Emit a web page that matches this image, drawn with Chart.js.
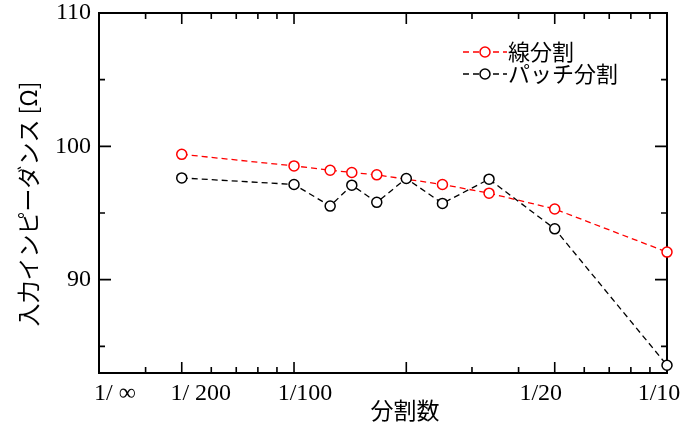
<!DOCTYPE html>
<html>
<head>
<meta charset="utf-8">
<script src="https://cdn.jsdelivr.net/npm/chart.js@4/dist/chart.umd.min.js"></script>
<style>
  html, body { margin: 0; padding: 0; background: #fff; }
  canvas { display: block; }
</style>
</head>
<body>
<canvas id="chart" width="697" height="424"></canvas>
<script>
// division counts N, plotted at x = 1/N on a log axis
const divisions = [200, 100, 80, 70, 60, 50, 40, 30, 20, 10];
const lineSplit = [99.40, 98.53, 98.21, 98.04, 97.86, null, 97.14, 96.49, 95.30, 92.07];
const patchSplit = [97.63, 97.14, 95.52, 97.09, 95.80, 97.59, 95.72, 97.54, 93.81, 83.58];
const seriesNames = ['線分割', 'パッチ分割'];

const xTickValues = [0.003, 0.005, 0.01, 0.05, 0.1];
const xTickLabels = ['1/ ∞', '1/ 200', '1/100', '1/20', '1/10'];
const xMajorTicks = [0.005, 0.01, 0.02, 0.05, 0.1];
const xMinorTicks = [0.004, 0.006, 0.007, 0.008, 0.009, 0.03, 0.04, 0.06, 0.07, 0.08, 0.09];
const yMajorTicks = [90, 100, 110];
const yMinorTicks = [85, 95, 105];

const toPoints = vals => divisions
    .map((n, i) => ({ x: 1 / n, y: vals[i] }))
    .filter(p => p.y !== null);

const numFont = '"Liberation Serif"';
const jpFont = '"Noto Sans CJK JP"';

// frame, inward ticks on all four sides
const framePlugin = {
    id: 'frame',
    beforeDatasetsDraw(chart) {
        const { ctx, chartArea: a, scales: { x, y } } = chart;
        ctx.save();
        ctx.strokeStyle = '#000';
        ctx.lineWidth = 2;
        ctx.strokeRect(a.left, a.top, a.right - a.left, a.bottom - a.top);

        ctx.lineWidth = 1.6;
        const xt = (v, len) => {
            const px = x.getPixelForValue(v);
            ctx.beginPath();
            ctx.moveTo(px, a.bottom); ctx.lineTo(px, a.bottom - len);
            ctx.moveTo(px, a.top); ctx.lineTo(px, a.top + len);
            ctx.stroke();
        };
        const yt = (v, len) => {
            const py = y.getPixelForValue(v);
            ctx.beginPath();
            ctx.moveTo(a.left, py); ctx.lineTo(a.left + len, py);
            ctx.moveTo(a.right, py); ctx.lineTo(a.right - len, py);
            ctx.stroke();
        };
        xMajorTicks.forEach(v => xt(v, 11));
        xMinorTicks.forEach(v => xt(v, 6));
        yMajorTicks.forEach(v => yt(v, 12));
        yMinorTicks.forEach(v => yt(v, 6));
        ctx.restore();
    },
    afterDraw(chart) {
        const { ctx, scales: { x } } = chart;
        ctx.save();
        ctx.fillStyle = '#000';

        // x tick labels (hand placed in the original, slightly off their ticks)
        const shift = [16, 19, 11, -14, -8];
        ctx.font = '24px ' + numFont;
        ctx.textAlign = 'center';
        ctx.textBaseline = 'alphabetic';
        xTickValues.forEach((v, i) => {
            ctx.fillText(xTickLabels[i], x.getPixelForValue(v) + shift[i], 400);
        });

        // axis titles
        ctx.font = '23px ' + jpFont;
        ctx.textBaseline = 'middle';
        ctx.fillText('分割数', 405, 410);
        ctx.save();
        ctx.translate(28, 204);
        ctx.rotate(-Math.PI / 2);
        ctx.fillText('入力インピーダンス [Ω]', 0, 0);
        ctx.restore();

        // legend: dashed line with an open circle
        chart.data.datasets.forEach((ds, i) => {
            const ly = 52 + i * 22;
            ctx.strokeStyle = ds.borderColor;
            ctx.lineWidth = 1.4;
            ctx.setLineDash([6, 4]);
            ctx.beginPath();
            ctx.moveTo(463, ly); ctx.lineTo(507, ly);
            ctx.stroke();
            ctx.setLineDash([]);
            ctx.beginPath();
            ctx.arc(485, ly, 5, 0, Math.PI * 2);
            ctx.fillStyle = '#fff';
            ctx.fill();
            ctx.lineWidth = 1.5;
            ctx.stroke();
            ctx.fillStyle = '#000';
            ctx.font = '22px ' + jpFont;
            ctx.textAlign = 'left';
            ctx.fillText(ds.label, 508, ly);
        });
        ctx.restore();
    }
};

const makeSet = (label, vals, color, order) => ({
    label,
    data: toPoints(vals),
    borderColor: color,
    borderWidth: 1.3,
    borderDash: [6, 4],
    pointRadius: 5,
    pointHoverRadius: 5,
    pointBorderWidth: 1.5,
    pointBackgroundColor: '#fff',
    pointBorderColor: color,
    fill: false,
    tension: 0,
    clip: false,
    order
});

new Chart(document.getElementById('chart').getContext('2d'), {
    type: 'line',
    data: {
        datasets: [
            makeSet(seriesNames[0], lineSplit, '#ff0000', 1),
            makeSet(seriesNames[1], patchSplit, '#000000', 0)
        ]
    },
    options: {
        responsive: false,
        animation: false,
        devicePixelRatio: 1,
        layout: { padding: { top: 13, right: 30, left: 0, bottom: 0 } },
        plugins: { legend: { display: false }, tooltip: { enabled: false } },
        scales: {
            x: {
                type: 'logarithmic',
                min: 0.003,
                max: 0.1,
                grid: { display: false, drawTicks: false },
                border: { display: false },
                ticks: { display: false },
                afterFit: s => { s.height = 51; s.paddingLeft = 0; s.paddingRight = 0; }
            },
            y: {
                min: 83,
                max: 110,
                grid: { display: false, drawTicks: false },
                border: { display: false },
                afterBuildTicks: s => {
                    s.ticks = [...yMinorTicks, ...yMajorTicks].sort((a, b) => a - b).map(v => ({ value: v }));
                },
                ticks: {
                    padding: 8,
                    color: '#000',
                    font: { family: numFont, size: 24 },
                    callback: v => yMajorTicks.includes(v) ? String(v) : ''
                },
                afterFit: s => { s.width = 99; s.paddingTop = 0; s.paddingBottom = 0; }
            }
        }
    },
    plugins: [framePlugin]
});
</script>
</body>
</html>
